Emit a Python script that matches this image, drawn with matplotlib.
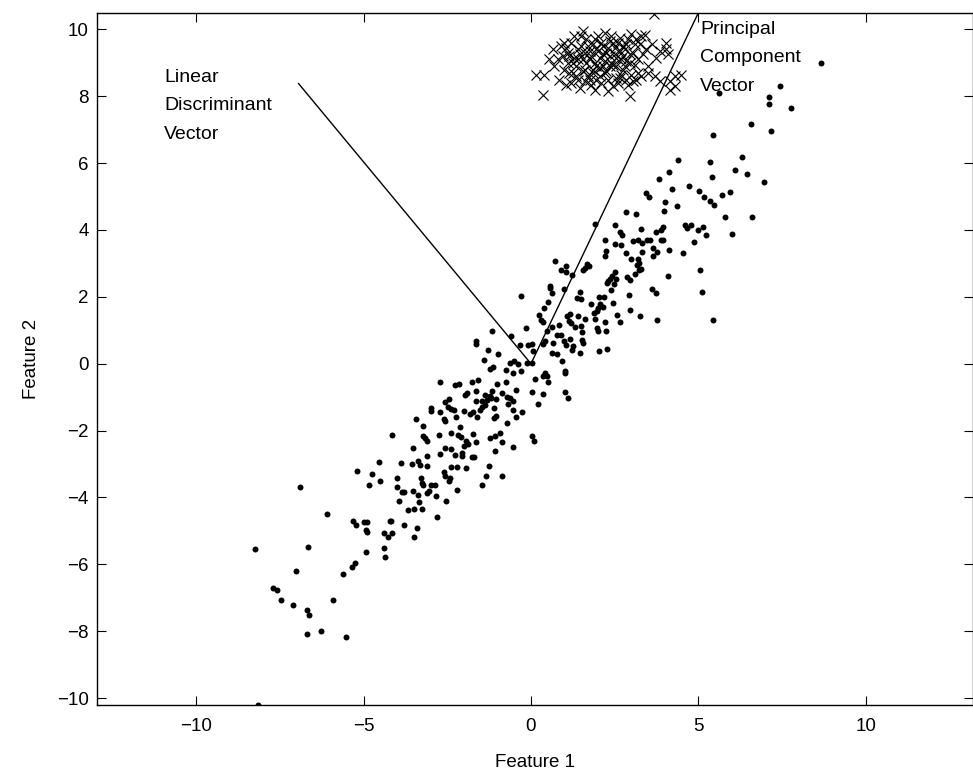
import matplotlib
matplotlib.use("Agg")
import matplotlib.pyplot as plt

plt.rcParams['font.family'] = ['Liberation Sans', 'DejaVu Sans']

# ---- class 1 (dots): feature1, feature2 ----
dots = [
    (-6.91, -3.69), (-4.85, -3.62), (-4.52, -3.50), (-6.09, -4.49), (-5.31, -4.69),
    (-5.21, -4.82), (-5.00, -4.73), (-4.89, -4.73), (-4.92, -4.97), (-4.89, -5.03),
    (-4.22, -4.69), (-4.40, -5.07), (-4.28, -5.17), (-4.16, -5.05), (-8.24, -5.54),
    (-6.65, -5.47), (-4.92, -5.63), (-4.38, -5.50), (-4.36, -5.78), (-5.25, -5.96),
    (-5.34, -6.08), (-5.61, -6.29), (-7.01, -6.20), (-7.69, -6.71), (-7.58, -6.77),
    (-7.45, -7.07), (-7.10, -7.23), (-5.92, -7.07), (-6.70, -7.36), (-6.64, -7.53),
    (-6.69, -8.08), (-6.26, -8.00), (-5.52, -8.18), (-8.15, -10.22), (-3.48, -5.18),
    (-1.17, 0.99), (-0.60, 0.84), (-1.64, 0.67), (-1.64, 0.60), (-0.33, 0.57),
    (-0.08, 0.57), (0.02, 0.60), (0.37, 0.60), (0.42, 0.67), (0.47, 0.97),
    (0.77, 0.87), (0.91, 0.87), (0.66, 0.62), (0.98, 0.67), (1.06, 0.57),
    (-1.27, 0.42), (-0.97, 0.29), (0.07, 0.37), (0.62, 0.32), (0.77, 0.30),
    (-1.39, 0.12), (-0.63, 0.02), (-0.51, 0.07), (-0.40, 0.00), (-0.13, 0.02),
    (0.02, 0.02), (0.93, 0.07), (-1.22, -0.15), (-1.12, -0.11), (-0.74, -0.20),
    (-0.55, -0.28), (-0.30, -0.21), (0.42, -0.28), (0.47, -0.38), (0.37, -0.38),
    (1.01, -0.23), (1.03, -0.28), (0.12, -0.45), (-2.71, -0.55), (-2.28, -0.63),
    (-2.14, -0.61), (-1.77, -0.55), (-1.57, -0.50), (-1.00, -0.60), (-0.74, -0.56),
    (0.50, -0.56), (-0.45, -0.78), (0.04, -0.85), (0.35, -0.90), (1.03, -0.85),
    (1.11, -1.03), (-1.97, -0.93), (-1.90, -0.88), (-1.65, -0.81), (-1.37, -0.93),
    (-1.22, -0.96), (-1.15, -0.83), (-0.87, -0.88), (-0.72, -1.00), (-0.63, -1.03),
    (-2.46, -1.06), (-2.56, -1.16), (-1.64, -1.11), (-1.47, -1.13), (-1.32, -1.08),
    (-1.20, -1.03), (-1.04, -1.06), (-0.53, -1.13), (-0.69, -1.20), (0.20, -1.20),
    (-2.98, -1.33), (-2.98, -1.41), (-2.73, -1.43), (-2.49, -1.30), (-2.39, -1.35),
    (-2.31, -1.38), (-2.00, -1.41), (-1.52, -1.38), (-1.47, -1.28), (-1.37, -1.23),
    (-1.09, -1.33), (-1.82, -1.51), (-1.72, -1.45), (-1.62, -1.58), (-0.55, -1.38),
    (-0.45, -1.59), (-0.27, -1.43), (-2.24, -1.58), (-1.10, -1.62), (-1.04, -1.56),
    (-3.43, -1.65), (-2.61, -1.65), (-2.58, -1.71), (-0.72, -1.77), (-3.23, -1.86),
    (-2.11, -1.89), (-4.15, -2.12), (-3.21, -2.15), (-3.16, -2.22), (-3.09, -2.32),
    (-2.74, -2.13), (-2.38, -2.06), (-2.18, -2.12), (-2.09, -2.19), (-1.72, -2.10),
    (-1.22, -2.21), (-1.07, -2.15), (-0.92, -2.07), (0.02, -2.15), (0.09, -2.32),
    (-1.94, -2.32), (-1.87, -2.39), (-2.00, -2.45), (-1.65, -2.34), (-0.86, -2.35),
    (-3.52, -2.52), (-2.56, -2.52), (-2.39, -2.54), (-0.53, -2.49), (-2.06, -2.67),
    (-2.06, -2.75), (-2.28, -2.74), (-2.71, -2.69), (-3.11, -2.75), (-1.77, -2.80),
    (-1.69, -2.79), (-1.07, -2.62), (-3.87, -2.97), (-3.55, -3.00), (-3.36, -2.92),
    (-3.31, -3.02), (-3.09, -3.07), (-2.38, -3.09), (-2.21, -3.09), (-1.95, -3.12),
    (-1.24, -3.07), (-2.61, -3.25), (-2.56, -3.37), (-2.41, -3.42), (-1.34, -3.35),
    (-0.85, -3.37), (-4.00, -3.42), (-3.29, -3.42), (-3.24, -3.57), (-3.21, -3.64),
    (-2.46, -3.52), (-4.00, -3.69), (-2.98, -3.62), (-2.88, -3.64), (-3.03, -3.80),
    (-3.09, -3.87), (-3.85, -3.85), (-3.80, -3.85), (-3.51, -3.82), (-3.36, -3.92),
    (-2.20, -3.79), (-1.45, -3.62), (-2.84, -3.97), (-3.95, -4.12), (-3.33, -4.15),
    (-3.24, -4.34), (-2.54, -4.12), (-3.67, -4.37), (-3.49, -4.35), (-2.81, -4.59),
    (-4.17, -4.69), (-3.78, -4.82), (-3.40, -4.92),
    (-4.55, -2.95), (-5.20, -3.20), (-4.75, -3.30),
    (4.01, 4.83), (2.83, 4.53), (3.13, 4.49), (3.96, 4.56), (1.92, 4.19),
    (2.52, 4.14), (3.30, 4.04), (3.94, 4.08), (3.87, 4.01), (3.74, 3.94),
    (2.67, 3.93), (2.72, 3.85), (2.21, 3.71), (2.51, 3.58), (2.70, 3.54),
    (3.05, 3.66), (3.20, 3.71), (3.33, 3.61), (3.46, 3.69), (3.54, 3.71),
    (3.87, 3.71), (3.94, 3.69), (3.63, 3.46), (2.25, 3.36), (2.20, 3.23),
    (2.83, 3.31), (3.33, 3.33), (3.77, 3.33), (4.11, 3.39), (3.63, 3.21),
    (2.98, 3.14), (3.20, 3.13), (3.22, 3.01), (3.17, 2.96), (0.71, 3.08),
    (1.06, 2.93), (0.89, 2.79), (1.04, 2.74), (1.66, 2.98), (1.72, 2.91),
    (1.61, 2.86), (1.54, 2.81), (2.50, 2.74), (2.42, 2.63), (2.35, 2.53),
    (2.87, 2.58), (2.95, 2.51), (3.10, 2.69), (3.22, 2.79), (3.30, 2.83),
    (1.24, 2.66), (4.09, 2.61), (2.31, 2.48), (2.27, 2.41), (2.48, 2.38),
    (2.55, 2.53), (0.57, 2.33), (0.57, 2.27), (0.62, 2.13), (0.98, 2.24),
    (1.46, 2.16), (2.40, 2.19), (2.93, 2.06), (3.61, 2.24), (3.74, 2.13),
    (-0.29, 2.03), (1.36, 1.98), (1.48, 1.94), (2.03, 2.00), (2.18, 2.01),
    (0.52, 1.85), (1.79, 1.79), (2.06, 1.79), (2.14, 1.71), (2.00, 1.67),
    (1.96, 1.59), (1.89, 1.52), (2.45, 1.82), (0.39, 1.67), (2.95, 1.62),
    (1.16, 1.49), (1.08, 1.42), (1.39, 1.44), (0.24, 1.45), (0.30, 1.30),
    (0.35, 1.25), (1.61, 1.35), (2.58, 1.45), (1.91, 1.35), (3.27, 1.42),
    (3.77, 1.32), (2.20, 1.25), (2.65, 1.25), (1.14, 1.27), (1.21, 1.22),
    (0.83, 1.15), (1.48, 1.12), (1.31, 1.09), (-0.16, 1.07), (0.62, 1.10),
    (1.96, 1.07), (1.99, 0.99), (2.23, 0.99), (1.51, 0.94), (1.18, 0.74),
    (1.26, 0.52), (1.51, 0.70), (1.54, 0.62), (2.27, 0.45), (2.03, 0.37),
    (1.46, 0.32), (1.24, 0.42),
    (5.05, 2.80), (5.10, 2.15), (5.45, 1.30), (4.55, 3.30),
    (5.63, 8.10), (7.45, 8.32), (7.10, 7.97), (7.10, 7.77), (7.77, 7.65),
    (6.57, 7.18), (7.16, 6.95), (5.45, 6.84), (4.40, 6.08), (5.35, 6.04),
    (6.29, 6.19), (4.12, 5.72), (3.82, 5.53), (5.40, 5.59), (6.10, 5.78),
    (6.44, 5.66), (6.96, 5.45), (4.22, 5.23), (4.72, 5.31), (5.01, 5.18),
    (3.43, 5.11), (3.51, 4.99), (5.16, 4.98), (5.69, 5.06), (5.95, 5.13),
    (5.36, 4.86), (5.48, 4.74), (4.37, 4.71), (5.78, 4.39), (6.60, 4.40),
    (4.59, 4.16), (4.66, 4.06), (4.79, 4.16), (4.98, 4.01), (5.15, 4.08),
    (5.23, 3.84), (6.01, 3.89), (4.86, 3.64), (8.66, 9.00),
]

# ---- class 2 (crosses) ----
crosses = [
    (3.66, 10.45), (4.04, 9.60), (4.02, 9.40), (4.09, 9.25), (3.84, 9.35),
    (3.74, 9.15), (3.60, 9.55), (3.40, 9.84), (3.30, 9.79), (3.25, 9.55),
    (3.49, 8.90), (3.69, 8.60), (3.84, 8.45), (4.14, 8.45), (4.29, 8.60),
    (4.49, 8.65), (4.29, 8.30), (4.14, 8.20), (2.95, 8.00), (3.15, 8.50),
    (0.36, 8.05), (0.15, 8.65), (0.40, 8.65), (0.80, 9.10), (0.90, 9.50),
    (1.00, 8.80), (1.10, 9.30), (1.20, 9.60), (1.25, 9.00), (1.35, 8.60),
    (1.40, 9.40), (1.50, 9.80), (1.55, 9.10), (1.60, 8.80), (1.70, 9.50),
    (1.75, 8.50), (1.80, 9.20), (1.90, 9.70), (1.95, 8.90), (2.00, 9.35),
    (2.05, 8.60), (2.10, 9.60), (2.20, 9.05), (2.25, 8.75), (2.30, 9.45),
    (2.40, 9.80), (2.45, 8.95), (2.50, 9.25), (2.55, 8.55), (2.60, 9.60),
    (2.70, 9.10), (2.75, 8.80), (2.80, 9.40), (2.90, 9.70), (2.95, 9.00),
    (3.00, 8.65), (3.05, 9.30), (3.10, 9.55), (1.30, 9.15), (1.65, 9.00),
    (2.15, 8.90), (2.35, 9.20), (1.85, 8.70), (1.45, 9.25), (2.65, 9.35),
    (0.95, 9.20), (1.15, 8.70), (2.85, 8.50), (3.20, 9.10), (1.05, 9.45),
    (1.00, 9.60), (1.10, 9.00), (1.20, 8.40), (1.30, 9.80), (1.35, 8.90),
    (1.40, 8.50), (1.50, 9.50), (1.55, 8.75), (1.60, 9.30), (1.65, 9.70),
    (1.70, 8.60), (1.75, 9.10), (1.80, 8.35), (1.85, 9.55), (1.90, 9.00),
    (1.95, 8.50), (2.00, 9.80), (2.05, 9.15), (2.10, 8.40), (2.15, 9.50),
    (2.20, 8.70), (2.25, 9.30), (2.30, 8.50), (2.35, 9.65), (2.40, 9.00),
    (2.45, 8.30), (2.50, 9.45), (2.55, 8.90), (2.60, 8.40), (2.65, 9.75),
    (2.70, 8.65), (2.75, 9.20), (2.80, 8.90), (2.85, 9.55), (2.90, 8.35),
    (2.95, 9.25), (3.00, 9.85), (3.05, 8.45), (3.10, 8.95), (3.15, 9.70),
    (3.20, 8.70), (1.45, 8.25), (1.90, 8.20), (2.30, 8.15), (0.70, 8.90),
    (0.65, 9.40), (0.85, 8.50), (0.55, 9.10), (1.05, 8.35), (1.25, 8.70),
    (1.55, 9.95), (1.95, 9.40), (2.45, 9.60), (2.05, 8.85), (1.75, 9.35),
    (2.55, 9.15), (2.85, 9.05), (1.40, 9.10), (1.15, 9.20), (2.20, 9.90),
    (2.65, 8.55), (3.35, 9.25), (3.45, 9.40), (3.50, 8.70), (3.30, 8.60),
    (1.60, 8.45), (2.35, 8.90), (1.85, 8.80), (2.75, 9.50), (2.15, 9.25),
]

# ---- projection vectors (end points, both start at the origin) ----
lda_end = (-6.94, 8.38)
pca_end = (5.00, 10.50)

dx = [p[0] for p in dots]
dy = [p[1] for p in dots]
cx = [p[0] for p in crosses]
cy = [p[1] for p in crosses]

fig = plt.figure(figsize=(9.73, 7.74), dpi=100)
ax = fig.add_axes([0.1, 0.0891, 0.9, 0.8945])

ax.plot(dx, dy, 'o', color='black', markersize=4.3, markeredgewidth=0, linestyle='none')
ax.plot(cx, cy, 'x', color='black', markersize=7.5, markeredgewidth=0.8, linestyle='none')
ax.plot([0, lda_end[0]], [0, lda_end[1]], color='black', linewidth=1.0)
ax.plot([0, pca_end[0]], [0, pca_end[1]], color='black', linewidth=1.0)

ax.text(-10.95, 8.83, 'Linear\nDiscriminant\nVector', fontsize=14, va='top', ha='left',
        linespacing=1.9)
ax.text(5.05, 10.26, 'Principal\nComponent\nVector', fontsize=14, va='top', ha='left',
        linespacing=1.9)

ax.set_xlim(-12.95, 13.2)
ax.set_ylim(-10.21, 10.5)
ax.set_xticks([-10, -5, 0, 5, 10])
ax.set_yticks([-10, -8, -6, -4, -2, 0, 2, 4, 6, 8, 10])
ax.tick_params(direction='in', length=6.5, width=0.8, labelsize=13.5,
               top=True, right=True)
ax.tick_params(axis='x', pad=9)
ax.tick_params(axis='y', pad=6)
for s in ax.spines.values():
    s.set_linewidth(1.0)
ax.set_xlabel('Feature 1', fontsize=13.5, labelpad=14)
ax.set_ylabel('Feature 2', fontsize=13.5, labelpad=12)

fig.savefig('out.png', dpi=100)
